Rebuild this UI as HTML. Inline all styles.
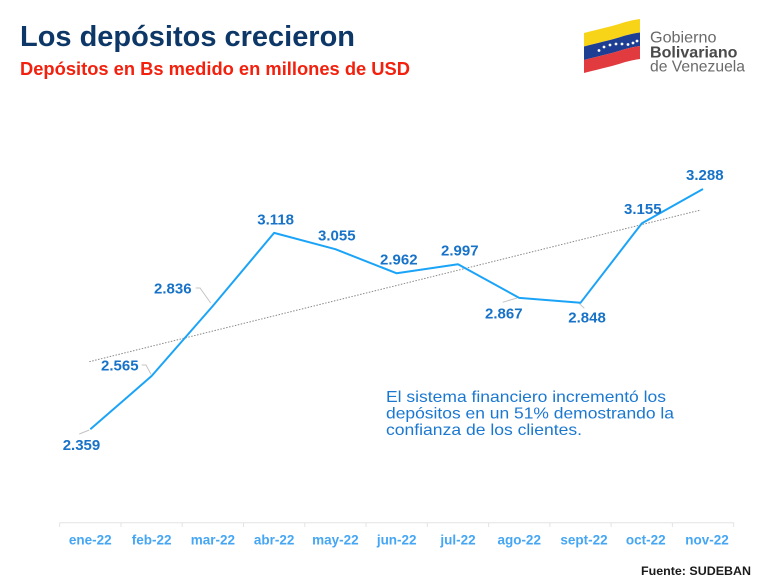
<!DOCTYPE html>
<html>
<head>
<meta charset="utf-8">
<style>
  html, body { margin:0; padding:0; background:#fff; }
  svg { display:block; }
  text { font-family: "Liberation Sans", Arial, sans-serif; }
</style>
</head>
<body>
<svg width="782" height="583" viewBox="0 0 782 583" xmlns="http://www.w3.org/2000/svg">
  <rect width="782" height="583" fill="#ffffff"/>

  <!-- Titles -->
  <text x="20" y="46" font-size="29" font-weight="bold" fill="#0c3766" textLength="335" lengthAdjust="spacingAndGlyphs">Los depósitos crecieron</text>
  <text x="20" y="75" font-size="18" font-weight="bold" fill="#f2200d" textLength="390" lengthAdjust="spacingAndGlyphs">Depósitos en Bs medido en millones de USD</text>

  <!-- Logo flag -->
  <path d="M584,33 C596,30 604,28 612,26 C620,24 626,21 640,19 L640,32.5 C626,34.5 620,37.5 612,39.5 C604,41.5 596,43.5 584,46.5 Z" fill="#f8d418"/>
  <path d="M584,46.5 C596,43.5 604,41.5 612,39.5 C620,37.5 626,34.5 640,32.5 L640,46 C626,48 620,51 612,53 C604,55 596,57 584,60 Z" fill="#1d3e92"/>
  <path d="M584,60 C596,57 604,55 612,53 C620,51 626,48 640,46 L640,59 C626,61 620,64 612,66 C604,68 596,70 584,73 Z" fill="#e23b3f"/>
  <g fill="#ffffff">
    <circle cx="599" cy="50.5" r="1.4"/>
    <circle cx="604" cy="47" r="1.4"/>
    <circle cx="610" cy="45" r="1.4"/>
    <circle cx="616" cy="44" r="1.4"/>
    <circle cx="622" cy="44" r="1.4"/>
    <circle cx="628" cy="44.5" r="1.4"/>
    <circle cx="633" cy="43" r="1.4"/>
    <circle cx="637" cy="41" r="1.4"/>
  </g>
  <text x="650" y="42.3" font-size="16" fill="#6a6a6a" textLength="66.5" lengthAdjust="spacingAndGlyphs">Gobierno</text>
  <text x="650" y="57.3" font-size="16" font-weight="bold" fill="#4a4a4a" textLength="87.5" lengthAdjust="spacingAndGlyphs">Bolivariano</text>
  <text x="650" y="71.3" font-size="16" fill="#6a6a6a" textLength="95" lengthAdjust="spacingAndGlyphs">de Venezuela</text>

  <!-- Axis -->
  <line x1="59.7" y1="522.7" x2="733.7" y2="522.7" stroke="#e3e3e3" stroke-width="1"/>
  <g stroke="#e3e3e3" stroke-width="1">
    <line x1="59.7" y1="522.7" x2="59.7" y2="527"/>
    <line x1="121" y1="522.7" x2="121" y2="527"/>
    <line x1="182.2" y1="522.7" x2="182.2" y2="527"/>
    <line x1="243.5" y1="522.7" x2="243.5" y2="527"/>
    <line x1="304.8" y1="522.7" x2="304.8" y2="527"/>
    <line x1="366" y1="522.7" x2="366" y2="527"/>
    <line x1="427.3" y1="522.7" x2="427.3" y2="527"/>
    <line x1="488.6" y1="522.7" x2="488.6" y2="527"/>
    <line x1="549.9" y1="522.7" x2="549.9" y2="527"/>
    <line x1="611.1" y1="522.7" x2="611.1" y2="527"/>
    <line x1="672.4" y1="522.7" x2="672.4" y2="527"/>
    <line x1="733.7" y1="522.7" x2="733.7" y2="527"/>
  </g>
  <g font-size="13.5" font-weight="bold" fill="#45a6f4" text-anchor="middle">
    <text x="90.3" y="544.5">ene-22</text>
    <text x="151.6" y="544.5">feb-22</text>
    <text x="212.9" y="544.5">mar-22</text>
    <text x="274.1" y="544.5">abr-22</text>
    <text x="335.4" y="544.5">may-22</text>
    <text x="396.7" y="544.5">jun-22</text>
    <text x="458" y="544.5">jul-22</text>
    <text x="519.2" y="544.5">ago-22</text>
    <text x="584" y="544.5">sept-22</text>
    <text x="645.8" y="544.5">oct-22</text>
    <text x="707" y="544.5">nov-22</text>
  </g>

  <!-- Trend line -->
  <line x1="89.3" y1="361.7" x2="700.7" y2="210" stroke="#8a8a8a" stroke-width="1" stroke-dasharray="1.5,1.5"/>

  <!-- Leader lines -->
  <g stroke="#c4c4c4" stroke-width="1" fill="none">
    <polyline points="79.3,434 89.3,430"/>
    <polyline points="141.7,365 146,365 151,374.3"/>
    <polyline points="195.7,288 200,288 210.7,303"/>
    <polyline points="502.7,302.3 517,298"/>
    <polyline points="578.7,303 584.3,308.3"/>
  </g>

  <!-- Series -->
  <polyline fill="none" stroke="#1ba4f7" stroke-width="2" stroke-linejoin="round"
    points="90.3,429.3 151.6,376 212.9,305.9 274.1,232.9 335.4,249.2 396.7,273.3 458,264.2 519.2,297.9 580.5,302.8 641.8,223.4 703,189"/>

  <!-- Data labels -->
  <g font-size="15" font-weight="bold" fill="#1873c8">
    <text x="62.7" y="450">2.359</text>
    <text x="101" y="370.7">2.565</text>
    <text x="154" y="293.3">2.836</text>
    <text x="257.3" y="224.3">3.118</text>
    <text x="318" y="240.3">3.055</text>
    <text x="380" y="264.3">2.962</text>
    <text x="441" y="255.7">2.997</text>
    <text x="485" y="318.3">2.867</text>
    <text x="568.3" y="322.7">2.848</text>
    <text x="624" y="214">3.155</text>
    <text x="686" y="180">3.288</text>
  </g>

  <!-- Annotation -->
  <g font-size="16" fill="#1b78d0">
    <text x="386" y="402" textLength="280" lengthAdjust="spacingAndGlyphs">El sistema financiero incrementó los</text>
    <text x="386" y="418.5" textLength="288" lengthAdjust="spacingAndGlyphs">depósitos en un 51% demostrando la</text>
    <text x="386" y="435" textLength="196" lengthAdjust="spacingAndGlyphs">confianza de los clientes.</text>
  </g>

  <!-- Source -->
  <text x="751" y="575" font-size="12" font-weight="bold" fill="#1a1a1a" text-anchor="end" textLength="110" lengthAdjust="spacingAndGlyphs">Fuente: SUDEBAN</text>
</svg>
</body>
</html>
